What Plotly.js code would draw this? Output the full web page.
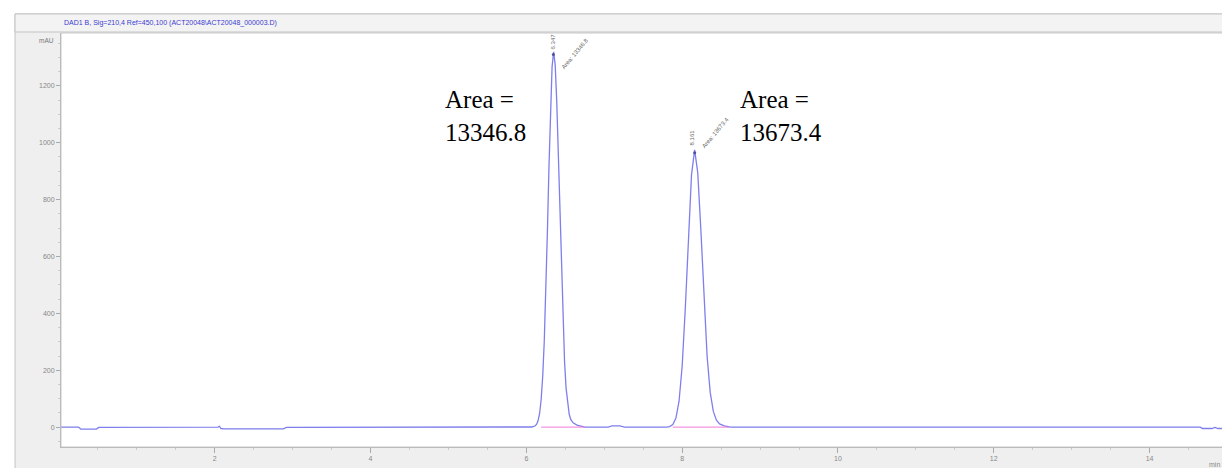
<!DOCTYPE html>
<html>
<head>
<meta charset="utf-8">
<script src="https://cdn.plot.ly/plotly-3.0.1.min.js"></script>
<style>html,body{margin:0;padding:0;background:#fff;}#chart{width:1222px;height:468px;}</style>
</head>
<body>
<div id="chart"></div>
<script>
// Retention time (min) and detector signal (mAU)
const timeMin = [
  0.03, 0.25, 0.28, 0.48, 0.51, 1.2, 2.04, 2.06, 2.08, 2.12, 2.88, 2.92, 5.0, 6.05,
  6.07, 6.11, 6.13, 6.15, 6.17, 6.19, 6.21, 6.23, 6.25, 6.27, 6.29, 6.31, 6.33, 6.35,
  6.37, 6.39, 6.41, 6.43, 6.45, 6.47, 6.49, 6.51, 6.53, 6.55, 6.57, 6.60, 6.65, 6.70, 6.75,
  7.05, 7.10, 7.20, 7.26, 7.80,
  7.84, 7.88, 7.92, 7.96, 8.00, 8.04, 8.08, 8.12, 8.16, 8.20, 8.24, 8.28, 8.32, 8.36,
  8.40, 8.44, 8.48, 8.54, 8.62,
  10.0, 12.0, 14.65, 14.68, 14.80, 14.84, 14.88, 14.93
];
const signalMAU = [
  0, 0, -7, -7, -1, 0, 0, 3, -5, -6, -6, -1, 0, 0,
  0.4, 3.7, 9.5, 22, 48, 97, 179, 304, 476, 687, 914, 1121, 1267, 1320,
  1274, 1145, 958, 747, 543, 367, 231, 136, 80, 45, 27, 15, 7, 3, 0,
  0, 4, 4, 0, 0,
  2, 9, 32, 91, 214, 416, 668, 887, 975, 895, 694, 453, 250, 122,
  55, 24, 11, 4, 0,
  0, 0, 0, -5, -5, -1, -5, -5
];
// Integration baselines (start, end) for the two peaks
const baseline1Time = [6.19, 6.75];
const baseline2Time = [7.88, 8.60];
const baselineValue = [0, 0];
// Peak information
const peakTimes = [6.347, 8.161];
const peakHeights = [1320, 975];
const peakAreas = ["13346.8", "13673.4"];
const xTicks = [2, 4, 6, 8, 10, 12, 14];
const yTicks = [0, 200, 400, 600, 800, 1000, 1200];
const titleText = "DAD1 B, Sig=210,4 Ref=450,100 (ACT20048\\ACT20048_000003.D)";

const traceColor = "#7f7fec";
const data = [
  {x: timeMin, y: signalMAU, type: "scatter", mode: "lines",
   line: {color: traceColor, width: 1.3}, hoverinfo: "x+y"},
  {x: baseline1Time, y: baselineValue, type: "scatter", mode: "lines",
   line: {color: "#f27ad8", width: 1}},
  {x: baseline2Time, y: baselineValue, type: "scatter", mode: "lines",
   line: {color: "#f27ad8", width: 1}},
  {x: peakTimes, y: peakHeights.map(v => v - 10), type: "scatter", mode: "markers",
   marker: {color: "#50509a", size: 3}}
];

const small = {family: "Liberation Sans, Arial, sans-serif", size: 6, color: "#666"};
const big = {family: "Liberation Serif, Times New Roman, serif", size: 25, color: "#000"};

const annotations = [
  {xref: "paper", yref: "paper", x: 0.001, y: 1.024, xanchor: "left", yanchor: "middle",
   text: titleText, showarrow: false,
   font: {family: "Liberation Sans, Arial, sans-serif", size: 7, color: "#3c3cd2"}},
  {xref: "paper", yref: "paper", x: -0.004, y: 0.983, xanchor: "right", yanchor: "middle",
   text: "mAU", showarrow: false, font: {family: "Liberation Sans, Arial, sans-serif", size: 6.5, color: "#777"}},
  {xref: "paper", yref: "paper", x: 1.0, y: -0.028, xanchor: "right", yanchor: "top",
   text: "min", showarrow: false, font: {family: "Liberation Sans, Arial, sans-serif", size: 7, color: "#888"}},
  {x: 4.93, y: 1206, xanchor: "left", yanchor: "top", align: "left", showarrow: false,
   text: "Area =<br>" + peakAreas[0], font: big},
  {x: 8.72, y: 1206, xanchor: "left", yanchor: "top", align: "left", showarrow: false,
   text: "Area =<br>" + peakAreas[1], font: big},
  {x: peakTimes[0] - 0.01, y: 1355, textangle: -90, showarrow: false,
   text: peakTimes[0].toFixed(3), font: small},
  {x: 6.62, y: 1312, textangle: -50, showarrow: false,
   text: "Area: " + peakAreas[0], font: small},
  {x: peakTimes[1] - 0.03, y: 1020, textangle: -90, showarrow: false,
   text: peakTimes[1].toFixed(3), font: small},
  {x: 8.42, y: 1036, textangle: -50, showarrow: false,
   text: "Area: " + peakAreas[1], font: small}
];

const shapes = [
  {type: "rect", xref: "paper", yref: "paper", x0: -0.0396, x1: 1.02, y0: -0.08, y1: 1.046,
   fillcolor: "#efefef", line: {color: "#c4c4c4", width: 1}, layer: "below"},
  {type: "rect", xref: "paper", yref: "paper", x0: -0.0396, x1: 1.02, y0: 1.0024, y1: 1.046,
   fillcolor: "#f3f3f3", line: {color: "#c4c4c4", width: 1}, layer: "below"},
  {type: "rect", xref: "paper", yref: "paper", x0: 0, x1: 1.01, y0: 0, y1: 1,
   fillcolor: "#ffffff", line: {color: "#c8c8c8", width: 1}, layer: "below"}
];

const tickFont = {family: "Liberation Sans, Arial, sans-serif", size: 7, color: "#888"};
const layout = {
  width: 1222, height: 468,
  margin: {l: 61, r: 0, t: 33, b: 21, pad: 0},
  paper_bgcolor: "#ffffff",
  plot_bgcolor: "rgba(0,0,0,0)",
  showlegend: false,
  xaxis: {range: [0.026, 14.93], tickvals: xTicks, ticks: "outside", ticklen: 5,
          tickcolor: "#aaa", tickfont: tickFont, showline: true, linecolor: "#bbb",
          showgrid: false, zeroline: false,
          minor: {dtick: 0.5, tick0: 0, ticks: "outside", ticklen: 2, tickcolor: "#ccc"}},
  yaxis: {range: [-70, 1386], tickvals: yTicks, ticks: "outside", ticklen: 4,
          tickcolor: "#aaa", tickfont: tickFont, showline: true, linecolor: "#bbb",
          showgrid: false, zeroline: false,
          minor: {dtick: 50, tick0: 0, ticks: "outside", ticklen: 2, tickcolor: "#ccc"}},
  annotations: annotations,
  shapes: shapes
};

Plotly.newPlot("chart", data, layout, {displayModeBar: false, staticPlot: true});
</script>
</body>
</html>
